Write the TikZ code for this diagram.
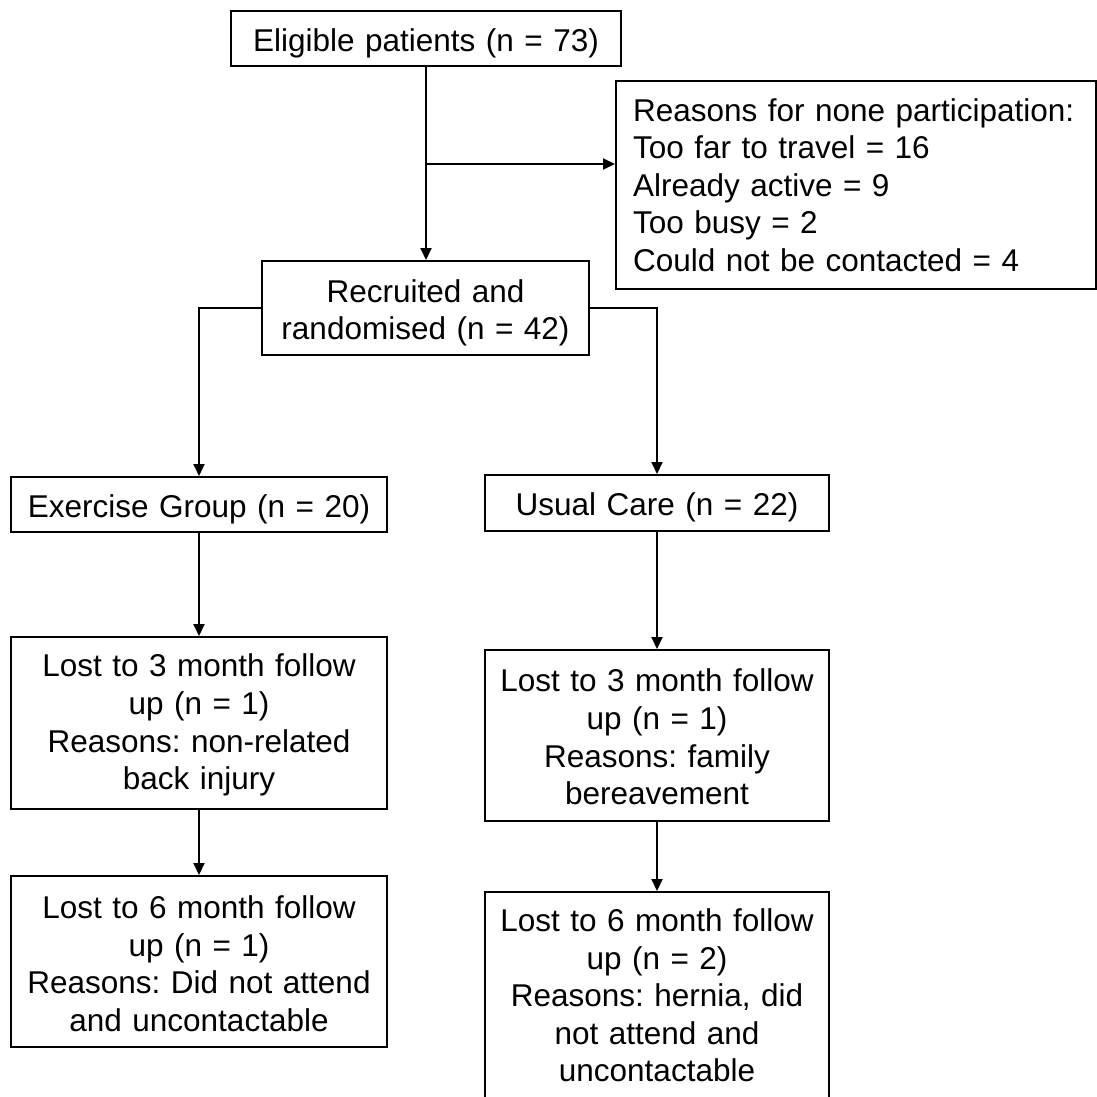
\documentclass[tikz,border=0pt]{standalone}
\usepackage{fontspec}
\setmainfont{Liberation Sans}
\usetikzlibrary{arrows.meta,calc}
\frenchspacing
\begin{document}
\begin{tikzpicture}[x=1pt,y=-1pt,
  every node/.style={font=\fontsize{31.5}{37.6}\selectfont},
  fbox/.style={draw, line width=2pt, inner sep=0pt, align=center},
  lowered/.style={execute at begin node={\rule{0pt}{#1}}},
  lowered/.default=32.5pt,
  conn/.style={line width=2pt, -{Triangle[length=12pt,width=11pt]}}]
\useasboundingbox (0,0) rectangle (1097,1097);
\clip (0,0) rectangle (1097,1097);
\fill[white] (0,0) rectangle (1097,1097);

\node[fbox, lowered, minimum width=390pt, minimum height=55pt, text width=370pt] (elig) at (426,38.5) {Eligible patients (n = 73)};
\node[fbox, minimum width=480pt, minimum height=208pt, text width=446pt, align=left] (reasons) at (856,185) {Reasons for none participation:\\Too far to travel = 16\\Already active = 9\\Too busy = 2\\Could not be contacted = 4};
\node[fbox, lowered, minimum width=327pt, minimum height=94pt, text width=310pt] (recr) at (425.5,308) {Recruited and\\randomised (n = 42)};
\node[fbox, lowered, minimum width=376pt, minimum height=55pt, text width=360pt] (ex) at (199,504.5) {Exercise Group (n = 20)};
\node[fbox, lowered, minimum width=344pt, minimum height=56pt, text width=330pt] (uc) at (657,503) {Usual Care (n = 22)};
\node[fbox, lowered=27pt, minimum width=376pt, minimum height=172pt, text width=360pt] (l3L) at (199,723) {Lost to 3 month follow\\up (n = 1)\\Reasons: non-related\\back injury};
\node[fbox, lowered=26pt, minimum width=344pt, minimum height=171pt, text width=330pt] (l3R) at (657,735.5) {Lost to 3 month follow\\up (n = 1)\\Reasons: family\\bereavement};
\node[fbox, lowered=27pt, minimum width=376pt, minimum height=171pt, text width=360pt] (l6L) at (199,961.5) {Lost to 6 month follow\\up (n = 1)\\Reasons: Did not attend\\and uncontactable};
\node[fbox, minimum width=344pt, minimum height=207pt, text width=330pt] (l6R) at (657,995.5) {Lost to 6 month follow\\up (n = 2)\\Reasons: hernia, did\\not attend and\\uncontactable};

\coordinate (br) at (426,164);
\draw[conn] (elig.south) -- (elig.south |- recr.north);
\draw[conn] (br) -- (br -| reasons.west);
\draw[conn] (recr.west) -| (ex.north);
\draw[conn] (recr.east) -| (uc.north);
\draw[conn] (ex.south) -- (l3L.north);
\draw[conn] (l3L.south) -- (l6L.north);
\draw[conn] (uc.south) -- (l3R.north);
\draw[conn] (l3R.south) -- (l6R.north);
\end{tikzpicture}
\end{document}
